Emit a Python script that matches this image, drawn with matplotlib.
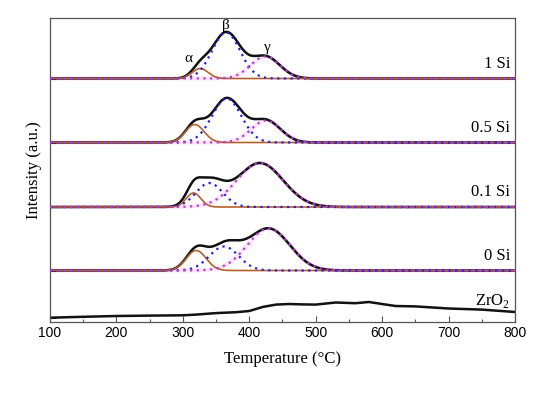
import numpy as np
import matplotlib
matplotlib.use('Agg')
import matplotlib.pyplot as plt
from matplotlib.ticker import MultipleLocator

plt.rcParams['font.family'] = 'Liberation Sans'
plt.rcParams['mathtext.fontset'] = 'custom'
plt.rcParams['mathtext.rm'] = 'Liberation Serif'

# ---- data ----
samples = ['0 Si', '0.1 Si', '0.5 Si', '1 Si']
offsets = [51.5, 115, 179.5, 243.5]          # vertical offset of each trace
alpha_center = [320, 316, 318, 326]
alpha_height = [20, 14, 18, 10]
alpha_width = [15, 11, 14, 12]
beta_center = [362, 340, 366, 365]
beta_height = [24, 24, 44, 46]
beta_width = [22, 20, 22, 21]
gamma_center = [429, 416, 425, 424]
gamma_height = [42, 44, 22, 22]
gamma_width = [32, 35, 22, 22]

zro2_T = [100, 150, 200, 250, 300, 320, 350, 380, 400, 420, 440, 460, 480, 500,
          530, 560, 580, 600, 620, 650, 700, 750, 800]
zro2_I = [4.3, 5.2, 6.0, 6.4, 6.7, 7.4, 8.9, 9.8, 11, 15, 17.4, 18, 17.6, 17.4,
          19.5, 18.8, 20, 18, 16, 15.6, 13.5, 12.4, 10]

peak_labels = ['α', 'β', 'γ']
peak_label_T = [309, 365, 427]
peak_label_h = [20, 53, 31]

T = np.arange(100, 801, 1.0)


def gauss(c, h, w):
    return h * np.exp(-(T - c) ** 2 / (2 * w ** 2))


fig = plt.figure(figsize=(5.5, 3.93), dpi=100)
ax = fig.add_axes([50 / 550, 1 - 322 / 393, 465 / 550, 304 / 393])

c_alpha = '#b5602a'
c_beta = '#2222dd'
c_gamma = '#b040cc'

for i, name in enumerate(samples):
    off = offsets[i]
    a = gauss(alpha_center[i], alpha_height[i], alpha_width[i])
    b = gauss(beta_center[i], beta_height[i], beta_width[i])
    g = gauss(gamma_center[i], gamma_height[i], gamma_width[i])
    total = a + b + g
    ax.plot(T, off + g, color='#ff99ff', lw=3, alpha=0.25, zorder=1)
    ax.plot(T, off + total, color='#111111', lw=1.8, zorder=2)
    ax.plot(T, off + a, color=c_alpha, lw=1.2, zorder=3)
    ax.plot(T, off + b, color=c_beta, lw=1.6, ls=(0, (1, 2)), zorder=4)
    ax.plot(T, off + g, color=c_gamma, lw=1.6, ls=(0, (1, 2)), zorder=4)
    ax.text(793, off + 11, name, ha='right', va='baseline',
            fontsize=12, family='Liberation Serif')

ax.plot(zro2_T, zro2_I, color='#111111', lw=1.8, zorder=2)
ax.text(793, 17, r'ZrO$_\mathregular{2}$', ha='right', va='baseline',
        fontsize=12, family='Liberation Serif')

for lab, t, h in zip(peak_labels, peak_label_T, peak_label_h):
    ax.text(t, offsets[3] + h, lab, ha='center', va='center',
            fontsize=11, family='Liberation Serif')

ax.set_xlim(100, 800)
ax.set_ylim(0, 304)
ax.xaxis.set_major_locator(MultipleLocator(100))
ax.xaxis.set_minor_locator(MultipleLocator(50))
ax.set_yticks([4.5] + offsets)
ax.set_yticklabels([])
ax.tick_params(axis='x', which='major', direction='in', length=4, width=0.8,
               color='#555555', labelsize=10, pad=3)
ax.tick_params(axis='x', which='minor', direction='in', length=2, width=0.8,
               color='#555555')
ax.tick_params(axis='y', direction='in', length=4, width=0.8, color='#333333')
for s in ax.spines.values():
    s.set_color('#555555')
    s.set_linewidth(0.9)

ax.set_xlabel('Temperature (°C)', fontsize=12, family='Liberation Serif', labelpad=8)
ax.set_ylabel('Intensity (a.u.)', fontsize=12, family='Liberation Serif', labelpad=2)

fig.savefig('out.png', dpi=100)
